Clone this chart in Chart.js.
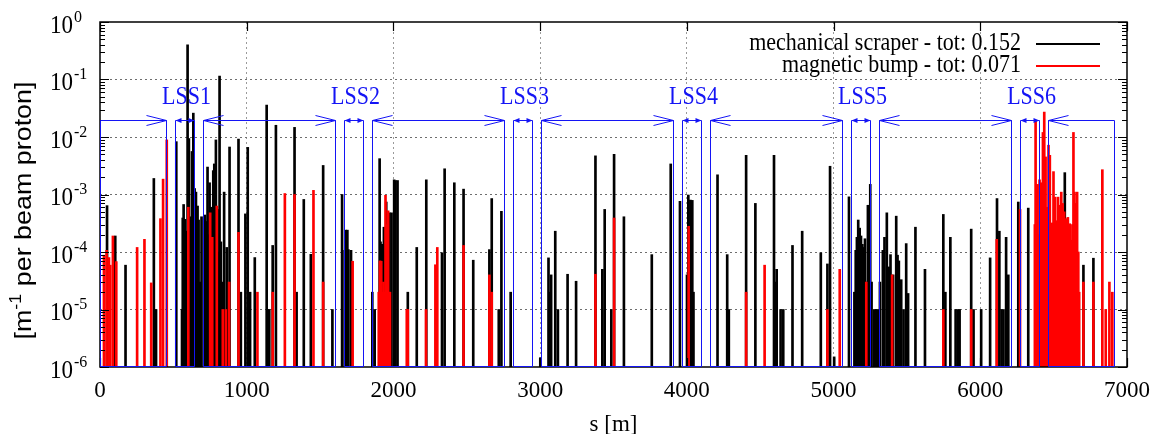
<!DOCTYPE html>
<html>
<head>
<meta charset="utf-8">
<script src="https://cdn.jsdelivr.net/npm/chart.js@4.4.1/dist/chart.umd.min.js"></script>
<style>
  html, body { margin: 0; padding: 0; background: #fff; }
  #wrap { width: 1160px; height: 434px; }
</style>
</head>
<body>
<div id="wrap"><canvas id="c" width="1160" height="434"></canvas></div>
<script>
// ---- data (s in m, loss in m^-1 per beam proton) ----
const scraperS = [48,104,174,367,382,520,559,564,570,579,588,597,606,615,627,636,645,654,665,672,681,692,715,724,733,740,747,755,763,772,779,790,801,808,815,824,833,846,864,883,944,960,991,1007,1023,1055,1136,1147,1154,1177,1199,1326,1340,1389,1437,1521,1584,1650,1668,1675,1686,1693,1711,1856,1872,1906,1912,1924,1935,1951,1973,1980,1987,2005,2014,2028,2098,2159,2224,2291,2331,2349,2415,2478,2544,2654,2670,2718,2736,2799,3001,3057,3066,3075,3103,3121,3187,3245,3377,3424,3440,3485,3504,3571,3761,3890,3953,4001,4010,4024,4037,4045,4209,4275,4286,4404,4467,4594,4606,4612,4639,4657,4720,4786,4913,4958,4976,5004,5105,5142,5151,5159,5168,5178,5187,5196,5205,5214,5223,5234,5250,5259,5277,5290,5302,5316,5336,5347,5363,5377,5388,5406,5427,5436,5445,5461,5477,5495,5508,5558,5623,5748,5762,5796,5832,5850,5859,5938,5954,6006,6067,6114,6130,6145,6158,6176,6191,6259,6327,6576,6703,6771];
const scraperV = [6.4e-4,1.9e-4,5.9e-5,1.9e-3,1e-5,8.3e-3,1e-5,3.9e-4,6.7e-4,3.7e-4,2.3e-4,0.40,9.4e-3,4.1e-4,5.6e-3,0.026,1.27e-3,1.1e-3,6.3e-4,3.6e-4,3e-5,4.1e-4,4.4e-4,3.4e-4,3e-3,2e-4,1.6e-3,6e-4,1.5e-4,2.6e-3,3.4e-3,8.9e-3,5.5e-4,1e-4,0.115,1.5e-4,3e-5,1.1e-3,1.2e-4,6.7e-3,9.2e-3,2e-5,4.6e-4,6.6e-3,2e-5,8e-5,0.036,1e-5,1e-5,1.3e-4,0.016,0.0147,2e-5,8.2e-4,9.1e-5,3.2e-3,1e-5,1e-3,1.07e-4,2.4e-4,2.4e-4,1.1e-4,1.07e-4,2e-5,1e-5,4.2e-3,1.5e-4,1.36e-4,2.7e-4,7.4e-4,4.8e-4,2e-5,4.8e-4,1.8e-3,1.75e-3,1.75e-3,2e-5,1.2e-4,1.8e-3,1e-5,9.7e-5,2.8e-3,1.6e-3,1.24e-3,7.2e-5,1.1e-4,8.5e-4,1e-5,5.1e-4,2e-5,1.45e-6,7.9e-5,2e-5,4e-5,2.3e-4,1e-5,4.1e-5,3.1e-5,4.7e-3,5e-5,5.5e-4,1e-5,5e-3,4.1e-4,9e-5,3.4e-3,7.6e-4,4e-5,9.8e-4,8e-4,7.9e-4,2e-5,2.2e-3,9e-5,1e-5,4.8e-3,7e-4,4.8e-3,3e-5,5e-5,1e-5,1e-5,1.3e-4,2.3e-4,9.7e-5,6.2e-5,3.1e-3,1.5e-6,9.1e-4,2e-5,1.07e-4,1.8e-4,3.6e-4,2.6e-4,1.9e-4,1.36e-4,1.2e-4,1.7e-4,3e-5,6.5e-4,1.5e-3,3e-5,1e-5,1e-5,1e-5,3e-5,1.07e-4,1.8e-4,4.8e-4,5.5e-5,9e-5,4e-5,4.2e-4,8.8e-5,7e-5,3.3e-5,1e-5,1.4e-4,1.9e-5,2.7e-4,5e-5,4.5e-4,2e-5,1.8e-4,1e-5,1e-5,1e-5,2.5e-4,1e-5,1e-5,7.9e-5,8.5e-4,2.3e-4,1e-5,1e-5,1.8e-4,4e-5,7.4e-4,5.8e-4,2.4e-3,5.9e-5,7.8e-5];

const bumpS = [27,45,61,70,88,111,253,303,349,412,430,455,602,751,765,796,837,858,880,944,1073,1177,1260,1326,1455,1521,1722,1900,1908,1912,1917,1925,1932,1940,1946,1952,1958,1964,1970,1976,2091,2098,2222,2286,2299,2478,2654,2670,3377,3504,4012,4404,4530,4958,5042,5223,5399,5748,5938,6112,6271,6372,6377,6382,6390,6398,6404,6413,6420,6427,6436,6445,6454,6459,6465,6474,6480,6487,6493,6499,6505,6510,6515,6520,6525,6530,6536,6543,6548,6552,6556,6561,6567,6572,6580,6586,6592,6597,6603,6610,6616,6622,6628,6635,6642,6651,6656,6660,6668,6674,6703,6771,6832,6855,6880,6900];
const bumpV = [8.8e-5,1.07e-4,8e-5,5.9e-5,1.9e-4,6.8e-5,1.2e-4,1.66e-4,2.9e-5,3.8e-4,1.85e-3,8.9e-3,6e-4,4.8e-4,1.8e-4,6.3e-4,1e-5,1e-5,3e-5,2.2e-4,2e-5,2e-5,1.04e-3,1.0e-3,1.18e-3,3e-5,6.9e-5,2e-5,7e-5,6.9e-5,6.9e-5,2e-5,3e-5,2e-5,9.7e-4,2e-5,3e-4,5.2e-4,2e-5,2e-5,1e-5,1e-5,1e-5,6e-5,1.2e-4,1.3e-4,4e-5,2e-5,4.1e-5,3.9e-4,2.8e-4,2e-5,5.9e-5,1e-5,5e-5,3e-5,4e-5,1e-5,1e-5,1.66e-4,5.5e-4,3e-4,0.019,1.2e-3,1.5e-3,2e-4,1.8e-3,1.6e-3,5e-4,0.012,0.027,4.5e-3,6e-4,2e-4,7.2e-3,4.8e-3,2e-4,3.2e-4,1.5e-4,2.5e-3,3e-4,9e-4,1.5e-4,3.5e-4,6e-5,9e-4,2e-4,6.5e-4,1e-4,1.1e-3,3e-4,7e-4,1.2e-4,5e-4,2e-4,3.8e-4,1e-4,4e-4,1.3e-4,3.1e-4,5e-5,1.6e-4,3e-4,0.012,1.1e-3,7e-4,2e-4,1.1e-3,1e-4,2e-5,3e-5,3e-5,2.7e-3,1e-5,3e-5,2e-5];

const seriesNames = ['mechanical scraper - tot: 0.152', 'magnetic bump - tot: 0.071'];
const lssNames = ['LSS1','LSS2','LSS3','LSS4','LSS5','LSS6'];
const lssCenter = [576, 1728, 2880, 4032, 5184, 6336];
const ringLength = 6911;
const xTicks = [0,1000,2000,3000,4000,5000,6000,7000];
const yTickExp = [0,-1,-2,-3,-4,-5,-6];
const xTitle = 's [m]';
const yTitle = ['[m', '-1', ' per beam proton]'];

// ---- styling constants ----
const SERIF = '"Liberation Serif", "Times New Roman", serif';
const SANS = '"Liberation Sans", Arial, sans-serif';
const BLUE = 'rgb(20,20,245)';
const LSS_OUT = 128, LSS_IN = 64, LSS_LEVEL = 0.02, LSS_TEXT = 0.05;

function stretchedText(ctx, txt, x, y, align, sy) {
  ctx.save();
  ctx.translate(x, y);
  ctx.scale(1, sy);
  ctx.textAlign = align;
  ctx.fillText(txt, 0, 0);
  ctx.restore();
}

const overlay = {
  id: 'overlay',
  afterDatasetsDraw(chart) {
    const {ctx, chartArea: a, scales: {x, y}} = chart;
    const X = v => x.getPixelForValue(v);
    const Y = v => y.getPixelForValue(v);
    ctx.save();
    // frame + inward ticks
    ctx.strokeStyle = '#000';
    ctx.lineWidth = 1.5;
    ctx.strokeRect(a.left, a.top, a.right - a.left, a.bottom - a.top);
    ctx.lineWidth = 1.2;
    ctx.beginPath();
    for (let e = -6; e <= 0; e++) {
      for (let m = 1; m <= 9; m++) {
        const v = m * Math.pow(10, e);
        if (v > 1.0000001) break;
        const py = Math.round(Y(v)) + 0.5;
        const len = m === 1 ? 9 : 5;
        ctx.moveTo(a.left, py); ctx.lineTo(a.left + len, py);
        ctx.moveTo(a.right, py); ctx.lineTo(a.right - len, py);
      }
    }
    xTicks.forEach(t => {
      const px = Math.round(X(t)) + 0.5;
      ctx.moveTo(px, a.bottom); ctx.lineTo(px, a.bottom - 9);
      ctx.moveTo(px, a.top); ctx.lineTo(px, a.top + 9);
    });
    ctx.stroke();

    // LSS boxes and arrows
    const yT = Math.round(Y(LSS_LEVEL)) + 0.5;
    const yB = a.bottom - 0.5;
    ctx.strokeStyle = BLUE;
    ctx.fillStyle = BLUE;
    ctx.lineWidth = 1;
    const starts = [0].concat(lssCenter.map(c => c + LSS_OUT));
    const ends = lssCenter.map(c => c - LSS_OUT).concat([ringLength]);
    ctx.beginPath();
    for (let i = 0; i < starts.length; i++) {
      const xs = Math.round(X(starts[i])) + 0.5, xe = Math.round(X(ends[i])) + 0.5;
      ctx.moveTo(xs, yB); ctx.lineTo(xs, yT); ctx.lineTo(xe, yT); ctx.lineTo(xe, yB); ctx.lineTo(xs, yB);
      if (i > 0) { ctx.moveTo(xs + 20, yT - 5); ctx.lineTo(xs, yT); ctx.lineTo(xs + 20, yT + 5); }
      if (i < starts.length - 1) { ctx.moveTo(xe - 20, yT - 5); ctx.lineTo(xe, yT); ctx.lineTo(xe - 20, yT + 5); }
    }
    lssCenter.forEach(c => {
      const x1 = Math.round(X(c - LSS_IN)) + 0.5, x2 = Math.round(X(c + LSS_IN)) + 0.5;
      ctx.moveTo(x1, yB); ctx.lineTo(x1, yT); ctx.lineTo(x2, yT); ctx.lineTo(x2, yB); ctx.lineTo(x1, yB);
    });
    ctx.stroke();
    lssCenter.forEach(c => {
      const x1 = Math.round(X(c - LSS_IN)) + 0.5, x2 = Math.round(X(c + LSS_IN)) + 0.5;
      ctx.beginPath();
      ctx.moveTo(x1, yT); ctx.lineTo(x1 + 6, yT - 2.5); ctx.lineTo(x1 + 6, yT + 2.5); ctx.closePath();
      ctx.moveTo(x2, yT); ctx.lineTo(x2 - 6, yT - 2.5); ctx.lineTo(x2 - 6, yT + 2.5); ctx.closePath();
      ctx.fill();
    });
    // LSS labels
    ctx.font = '22px ' + SERIF;
    ctx.textBaseline = 'middle';
    lssCenter.forEach((c, i) => stretchedText(ctx, lssNames[i], X(c) + 2, Y(LSS_TEXT), 'center', 1.18));

    // legend
    const colors = ['#000000', '#ff0000'];
    seriesNames.forEach((n, i) => {
      const ly = a.top + 22 + i * 22;
      ctx.fillStyle = '#000';
      stretchedText(ctx, n, a.right - 106, ly, 'right', 1.1);
      ctx.strokeStyle = colors[i];
      ctx.lineWidth = 2;
      ctx.beginPath(); ctx.moveTo(a.right - 91, ly); ctx.lineTo(a.right - 27, ly); ctx.stroke();
    });

    // y tick labels (10^n)
    ctx.fillStyle = '#000';
    ctx.textBaseline = 'middle';
    yTickExp.forEach(e => {
      const py = Y(Math.pow(10, e));
      ctx.font = '23px ' + SERIF;
      stretchedText(ctx, '10', 50, py + 4, 'left', 1.1);
      const w = ctx.measureText('10').width;
      ctx.font = '16px ' + SERIF;
      stretchedText(ctx, String(e), 50 + w + 1, py - 5, 'left', 1.1);
    });

    // y title (rotated)
    ctx.save();
    ctx.translate(24, (a.top + a.bottom) / 2 + 16);
    ctx.rotate(-Math.PI / 2);
    ctx.scale(1.12, 1);
    ctx.textBaseline = 'middle';
    ctx.font = '24px ' + SANS;
    const w0 = ctx.measureText(yTitle[0]).width;
    const w2 = ctx.measureText(yTitle[2]).width;
    ctx.font = '16px ' + SANS;
    const w1 = ctx.measureText(yTitle[1]).width;
    let sx = -(w0 + w1 + w2) / 2;
    ctx.textAlign = 'left';
    ctx.font = '24px ' + SANS; ctx.fillText(yTitle[0], sx, 0); sx += w0;
    ctx.font = '16px ' + SANS; ctx.fillText(yTitle[1], sx, -7); sx += w1;
    ctx.font = '24px ' + SANS; ctx.fillText(yTitle[2], sx, 0);
    ctx.restore();

    ctx.restore();
  }
};

new Chart(document.getElementById('c'), {
  type: 'bar',
  data: {
    datasets: [
      {
        label: seriesNames[1],
        data: bumpS.map((s, i) => ({x: s, y: bumpV[i]})),
        backgroundColor: '#ff0000',
        barThickness: 2,
        grouped: false,
        order: 1
      },
      {
        label: seriesNames[0],
        data: scraperS.map((s, i) => ({x: s, y: scraperV[i]})),
        backgroundColor: '#000000',
        barThickness: 2,
        grouped: false,
        order: 2
      }
    ]
  },
  plugins: [overlay],
  options: {
    responsive: false,
    animation: false,
    devicePixelRatio: 1,
    layout: { padding: { top: 22, right: 29, bottom: 0, left: 0 } },
    plugins: { legend: { display: false }, tooltip: { enabled: false } },
    scales: {
      x: {
        type: 'linear',
        offset: false,
        min: 0, max: 7000,
        afterFit: s => { s.height = 67; },
        afterBuildTicks: s => { s.ticks = xTicks.map(v => ({value: v})); },
        ticks: { color: '#000', font: { family: SERIF, size: 23 }, padding: 10, maxRotation: 0, autoSkip: false, callback: v => String(v) },
        grid: {
          offset: false,
          drawTicks: false,
          color: c => (c.tick && (c.tick.value === 0 || c.tick.value === 7000)) ? 'rgba(0,0,0,0)' : '#9a9a9a',
          lineWidth: 1
        },
        border: { display: false, dash: [2, 3] },
        title: { display: true, text: xTitle, color: '#000', font: { family: SERIF, size: 23, lineHeight: 1 }, padding: { top: 0, bottom: -2 } }
      },
      y: {
        type: 'logarithmic',
        min: 1e-6, max: 1,
        afterFit: s => { s.width = 100; },
        afterBuildTicks: s => { s.ticks = yTickExp.map(e => ({value: Math.pow(10, e)})); },
        ticks: { display: false },
        grid: {
          drawTicks: false,
          color: c => (c.tick && (c.tick.value >= 0.99 || c.tick.value <= 1.01e-6)) ? 'rgba(0,0,0,0)' : '#6e6e6e',
          lineWidth: 1
        },
        border: { display: false, dash: [2, 3] }
      }
    }
  }
});
</script>
</body>
</html>
